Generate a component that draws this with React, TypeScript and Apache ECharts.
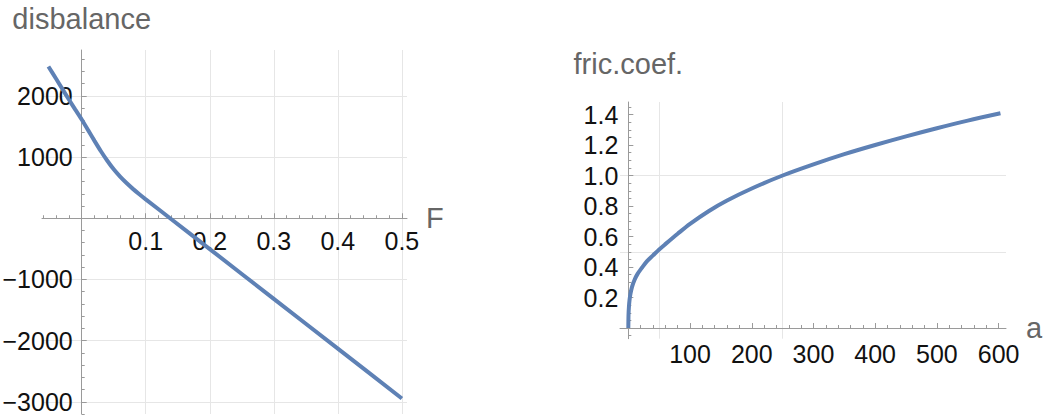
import React, { useEffect, useRef } from 'react';
import * as echarts from 'echarts';

// ---- data ----
const disbalanceF = [-0.052, -0.04, -0.03, -0.02, -0.01, 0, 0.01, 0.02, 0.03, 0.04, 0.05, 0.06, 0.07, 0.08, 0.09, 0.1, 0.14, 0.2, 0.3, 0.4, 0.5];
const disbalanceValues = [2480, 2280, 2110, 1940, 1775, 1615, 1440, 1265, 1095, 940, 800, 680, 575, 480, 392, 309, -16, -504, -1318, -2132, -2946];

const fricA = [0, 0.3, 1, 2, 3.5, 6, 10, 15, 22, 30, 40, 50, 60, 80, 100, 130, 160, 200, 250, 300, 350, 400, 450, 500, 550, 603];
const fricValues = [0, 0.085, 0.14, 0.185, 0.225, 0.27, 0.315, 0.355, 0.395, 0.437, 0.476, 0.515, 0.55, 0.618, 0.683, 0.766, 0.836, 0.915, 1.0, 1.073, 1.14, 1.2, 1.257, 1.31, 1.36, 1.408];

// ---- tick / grid values ----
const range = (a: number, b: number, s: number) => {
  const out: number[] = [];
  const n = Math.round((b - a) / s);
  for (let i = 0; i <= n; i++) out.push(+(a + i * s).toFixed(6));
  return out;
};
const leftXMajor = [0.1, 0.2, 0.3, 0.4, 0.5];
const leftXMinor = range(-0.06, 0.5, 0.02);
const leftXGrid = [0.1, 0.2, 0.3, 0.4, 0.5];
const leftYMajor = [-3000, -2000, -1000, 1000, 2000];
const leftYMinor = range(-3200, 2600, 200);
const leftYGrid = [-3000, -2000, -1000, 1000, 2000];

const rightXMajor = [100, 200, 300, 400, 500, 600];
const rightXMinor = range(20, 600, 20);
const rightXGrid = [50, 250];
const rightYMajor = [0.2, 0.4, 0.6, 0.8, 1.0, 1.2, 1.4];
const rightYMinor = range(-0.05, 1.45, 0.05);
const rightYGrid = [0.5, 1.0];

const FONT = "'Liberation Sans', Arial, Helvetica, sans-serif";
const AXIS = '#9a9a9a';
const GRIDC = '#e6e6e6';
const CURVE = '#5e81b5';

const minus = (s: string) => s.replace('-', '\u2212');

interface Box { left: number; top: number; width: number; height: number }

function axisSet(
  dim: 'x' | 'y',
  gridIndex: number,
  box: Box,
  min: number,
  max: number,
  otherMin: number,
  otherMax: number,
  major: number[],
  minor: number[],
  gridVals: number[],
  fmt: (v: number) => string,
  margin: number,
  name: string,
  nameGap: number
) {
  // place the axis where the other axis has its zero (axes cross at the origin)
  const frac = (0 - otherMin) / (otherMax - otherMin);
  const offset = dim === 'x' ? -box.height * frac : -box.width * frac;
  const position = dim === 'x' ? 'bottom' : 'left';
  const base = { type: 'value', gridIndex, min, max, position };
  return [
    {
      ...base,
      offset,
      name,
      nameLocation: 'end',
      nameGap,
      nameTextStyle: { fontSize: 29, color: '#666666', fontFamily: FONT },
      axisLine: { show: true, onZero: false, lineStyle: { color: AXIS, width: 1 } },
      axisTick: { show: true, inside: true, length: 5, customValues: major, lineStyle: { color: AXIS, width: 1 } },
      axisLabel: { show: true, customValues: major, formatter: fmt, margin, fontSize: 25, color: '#111111', fontFamily: FONT },
      splitLine: { show: false },
    },
    {
      ...base,
      offset,
      axisLine: { show: false, onZero: false },
      axisTick: { show: true, inside: true, length: 3, customValues: minor, lineStyle: { color: AXIS, width: 1 } },
      axisLabel: { show: false },
      splitLine: { show: false },
    },
    {
      ...base,
      axisLine: { show: false, onZero: false },
      axisTick: { show: false, customValues: gridVals },
      axisLabel: { show: false },
      splitLine: { show: true, lineStyle: { color: GRIDC, width: 1 } },
    },
  ];
}

export default function App() {
  const ref = useRef<HTMLDivElement>(null);
  useEffect(() => {
    if (!ref.current) return;
    const chart = echarts.init(ref.current, null, { renderer: 'svg' });
    const g0: Box = { left: 42, top: 50, width: 365, height: 364 };
    const g1: Box = { left: 620, top: 102, width: 386, height: 236.7 };
    const L = { xMin: -0.062, xMax: 0.508, yMin: -3200, yMax: 2750 };
    const R = { xMin: -13.5, xMax: 612, yMin: -0.07, yMax: 1.482 };
    const xAxis = [
      ...axisSet('x', 0, g0, L.xMin, L.xMax, L.yMin, L.yMax, leftXMajor, leftXMinor, leftXGrid, (v) => minus(v.toFixed(1)), 10, 'F', 19),
      ...axisSet('x', 1, g1, R.xMin, R.xMax, R.yMin, R.yMax, rightXMajor, rightXMinor, rightXGrid, (v) => String(Math.round(v)), 13, 'a', 20),
    ];
    const yAxis = [
      ...axisSet('y', 0, g0, L.yMin, L.yMax, L.xMin, L.xMax, leftYMajor, leftYMinor, leftYGrid, (v) => minus(String(Math.round(v))), 9, 'disbalance', 17),
      ...axisSet('y', 1, g1, R.yMin, R.yMax, R.xMin, R.xMax, rightYMajor, rightYMinor, rightYGrid, (v) => v.toFixed(1), 10, 'fric.coef.', 24),
    ];
    chart.setOption({
      animation: false,
      backgroundColor: '#ffffff',
      textStyle: { fontFamily: FONT },
      grid: [
        { ...g0, containLabel: false, outerBoundsMode: 'none' },
        { ...g1, containLabel: false, outerBoundsMode: 'none' },
      ],
      xAxis,
      yAxis,
      series: [
        {
          type: 'line',
          xAxisIndex: 0,
          yAxisIndex: 0,
          data: disbalanceF.map((x, i) => [x, disbalanceValues[i]]),
          showSymbol: false,
          smooth: 0.2,
          lineStyle: { color: CURVE, width: 4 },
          z: 5,
        },
        {
          type: 'line',
          xAxisIndex: 3,
          yAxisIndex: 3,
          data: fricA.map((x, i) => [x, fricValues[i]]),
          showSymbol: false,
          smooth: 0.3,
          lineStyle: { color: CURVE, width: 4 },
          z: 5,
        },
      ],
    });
    return () => chart.dispose();
  }, []);
  return <div ref={ref} style={{ position: 'absolute', left: 0, top: 0, width: 1046, height: 418 }} />;
}
